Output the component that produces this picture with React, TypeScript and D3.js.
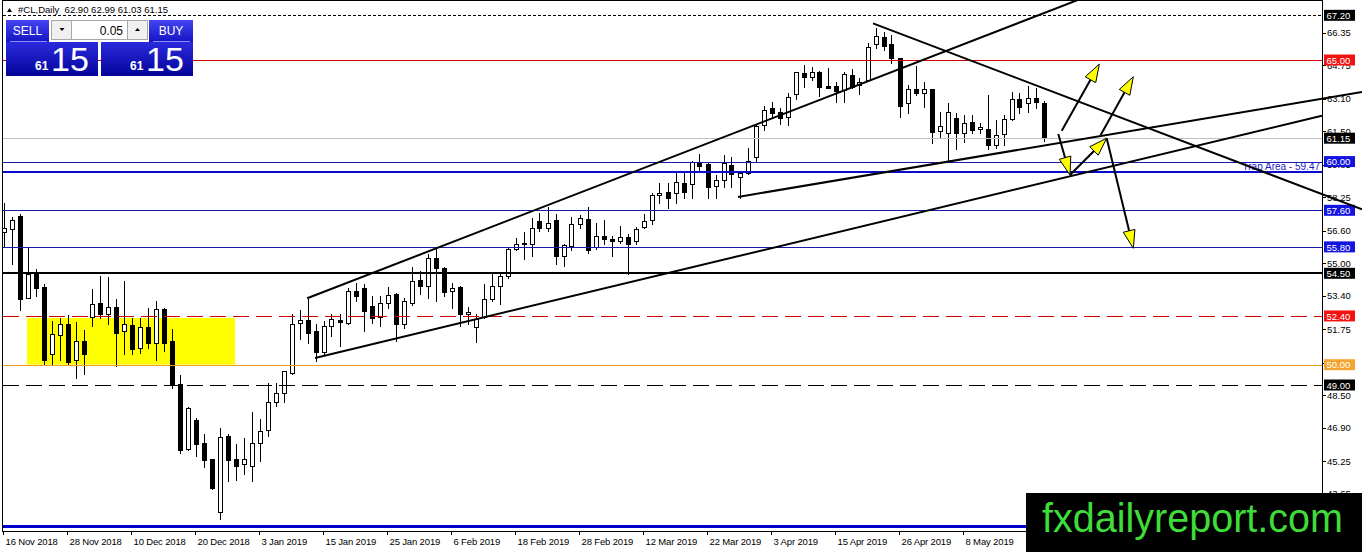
import React from "react";
import * as d3 from "d3";

// ---------- data ----------
const opens = [
  56.51, 56.70, 57.30, 53.30, 54.48, 53.84, 50.53, 51.47, 52.01, 50.23,
  51.17, 52.36, 53.05, 52.51, 52.85, 51.67, 51.96, 50.83, 51.86, 51.07,
  52.75, 51.17, 49.05, 45.84, 47.27, 46.14, 45.35, 42.73, 46.48, 45.35,
  45.10, 45.00, 46.14, 46.78, 48.16, 48.60, 49.59, 52.06, 52.21, 51.67,
  50.63, 51.91, 52.21, 52.06, 53.64, 53.79, 52.90, 52.36, 53.05, 53.49,
  52.01, 53.05, 54.19, 53.89, 55.27, 54.78, 53.64, 53.84, 52.51, 51.86,
  52.36, 53.25, 53.89, 54.38, 55.72, 56.01, 55.96, 57.05, 56.75, 57.10,
  55.37, 55.86, 56.95, 57.15, 55.77, 56.36, 56.21, 56.11, 56.31, 56.11,
  56.80, 57.10, 58.33, 58.48, 58.43, 58.93, 58.88, 59.91, 59.86, 58.78,
  59.07, 59.81, 59.22, 59.42, 60.21, 61.79, 62.63, 62.43, 62.19, 63.32,
  64.36, 64.16, 64.41, 63.72, 63.72, 63.52, 64.26, 63.77, 64.01, 65.79,
  66.14, 65.79, 65.10, 62.88, 63.57, 63.37, 63.57, 61.49, 61.40, 62.14,
  61.40, 61.94, 61.59, 61.59, 60.80, 61.35, 62.09, 63.07, 62.88, 63.12,
  62.90,
];
const highs = [
  57.94, 57.25, 57.40, 55.77, 54.73, 53.99, 52.16, 52.31, 52.46, 52.11,
  51.72, 53.74, 54.38, 54.33, 53.25, 54.14, 52.31, 52.31, 52.80, 53.15,
  52.80, 51.76, 49.49, 47.91, 47.37, 46.58, 45.35, 46.88, 46.58, 46.09,
  46.38, 47.67, 47.32, 49.10, 49.10, 49.69, 52.51, 52.70, 53.25, 52.01,
  52.16, 52.51, 52.51, 53.79, 54.04, 53.99, 53.40, 53.40, 53.84, 53.54,
  53.30, 54.83, 54.63, 55.47, 55.72, 54.80, 54.04, 53.86, 52.85, 52.51,
  53.99, 54.48, 54.58, 55.77, 56.26, 56.51, 57.20, 57.49, 57.74, 57.44,
  55.96, 57.25, 57.35, 57.74, 57.00, 57.10, 56.36, 56.85, 56.41, 56.80,
  57.44, 58.43, 58.93, 58.93, 59.47, 59.47, 60.01, 60.36, 59.96, 59.32,
  60.31, 60.21, 59.44, 60.65, 61.84, 62.73, 62.93, 62.63, 63.37, 64.43,
  64.75, 64.65, 64.46, 64.60, 63.91, 64.41, 64.56, 64.11, 65.84, 66.58,
  66.38, 66.23, 65.12, 63.77, 64.70, 63.91, 63.59, 62.43, 62.88, 62.38,
  62.28, 62.28, 61.89, 63.27, 62.04, 62.28, 63.42, 63.37, 63.72, 63.62,
  62.99,
];
const lows = [
  55.77, 54.98, 52.70, 53.28, 53.40, 50.04, 49.99, 50.23, 49.99, 49.35,
  49.54, 51.91, 52.31, 52.01, 49.94, 50.53, 50.53, 50.58, 50.83, 50.23,
  50.68, 48.85, 45.64, 45.82, 45.49, 44.95, 43.86, 42.38, 44.26, 44.31,
  44.61, 44.26, 45.25, 46.48, 47.96, 48.16, 49.54, 51.27, 51.07, 50.19,
  50.53, 51.42, 50.93, 52.01, 53.15, 51.67, 52.06, 51.91, 52.80, 51.17,
  51.81, 52.95, 53.49, 53.30, 53.15, 53.40, 52.80, 51.91, 52.01, 51.12,
  52.31, 53.15, 53.00, 54.28, 55.67, 55.22, 55.37, 56.60, 56.60, 54.98,
  54.88, 55.67, 56.75, 55.52, 55.72, 55.96, 55.37, 56.01, 54.48, 55.96,
  56.75, 56.95, 57.94, 57.69, 57.94, 58.23, 58.23, 59.57, 58.23, 58.23,
  58.73, 58.73, 58.19, 59.37, 60.01, 61.54, 62.19, 61.84, 61.79, 63.07,
  63.67, 64.01, 63.22, 63.60, 62.93, 62.93, 63.62, 63.32, 63.96, 65.59,
  65.49, 64.85, 62.19, 62.38, 63.27, 62.68, 60.90, 61.20, 59.96, 60.60,
  60.95, 61.40, 61.40, 60.60, 60.65, 60.80, 62.04, 62.38, 62.43, 62.63,
  61.03,
];
const closes = [
  56.75, 57.10, 53.25, 54.48, 53.79, 50.23, 51.52, 52.01, 50.14, 51.17,
  50.53, 53.00, 52.51, 52.85, 51.57, 52.01, 50.78, 51.86, 51.07, 52.75,
  51.07, 49.05, 45.79, 47.86, 46.09, 45.30, 43.91, 46.43, 45.30, 45.00,
  45.35, 46.14, 46.73, 48.16, 48.60, 49.69, 52.01, 52.21, 51.57, 50.63,
  51.91, 52.26, 52.11, 53.64, 53.40, 52.65, 52.31, 53.05, 53.44, 52.01,
  53.15, 54.14, 53.89, 55.27, 54.78, 53.59, 53.79, 52.51, 52.60, 52.26,
  53.25, 53.89, 54.38, 55.72, 55.96, 55.96, 56.75, 56.75, 57.00, 55.37,
  55.91, 56.95, 57.20, 55.67, 56.36, 56.21, 56.11, 56.31, 55.96, 56.70,
  57.05, 58.33, 58.43, 58.23, 58.98, 58.48, 59.96, 59.76, 58.73, 59.07,
  59.91, 59.37, 59.42, 60.01, 61.74, 62.53, 62.38, 62.14, 63.17, 64.41,
  64.16, 64.41, 63.67, 63.62, 63.47, 64.31, 63.67, 63.91, 65.64, 66.19,
  65.69, 65.10, 62.73, 63.57, 63.37, 63.57, 61.45, 61.74, 62.43, 61.40,
  61.89, 61.54, 61.69, 60.80, 61.30, 62.09, 63.07, 62.68, 63.12, 62.93,
  61.15,
];

// one date label every 8 bars, starting at bar 0
const dateLabels = [
  "16 Nov 2018", "28 Nov 2018", "10 Dec 2018", "20 Dec 2018", "3 Jan 2019",
  "15 Jan 2019", "25 Jan 2019", "6 Feb 2019", "18 Feb 2019", "28 Feb 2019",
  "12 Mar 2019", "22 Mar 2019", "3 Apr 2019", "15 Apr 2019", "26 Apr 2019",
  "8 May 2019", "20 May 2019",
];

const priceTicks = [66.35, 64.75, 63.10, 61.50, 59.85, 58.25, 56.60, 55.00, 53.40, 51.75, 50.10, 48.50, 46.90, 45.25, 43.65];

// horizontal levels
const levelPrices = [67.20, 65.00, 61.15, 60.00, 59.47, 57.60, 55.80, 54.50, 52.40, 50.00, 49.00, 42.05];
const trapLabel = "Trap Area - 59.47";

// yellow zone: [fromBar, toBar], [topPrice, bottomPrice]
const zoneBars = [2.94, 28.94];
const zonePrices = [52.30, 50.00];

// trend lines: [bar, price] pairs
const upperChannel = [[37.96, 53.27], [130, 67.30]];
const lowerChannel = [[38.94, 50.33], [130, 58.96]];
const fallingLine = [[108.69, 66.80], [164.81, 58.40]];
const risingLine = [[91.81, 58.26], [169.81, 63.42]];

// arrows: [fromBar, fromPrice, toBar, toPrice]
const arrows = [
  [132.28, 61.52, 136.98, 64.80],
  [137.15, 61.31, 141.23, 64.18],
  [131.85, 61.36, 133.31, 59.34],
  [133.31, 59.34, 137.90, 61.15],
  [137.90, 61.15, 141.23, 55.73],
];

// ---------- layout ----------
const W = 1362;
const H = 552;
const L = 3;
const R = 1322;
const T = 1;
const B = 531;
const FONT = "'Liberation Sans', Arial, sans-serif";

export default function App() {
  const n = opens.length;
  const x = d3.scaleLinear().domain([0, 130]).range([3.5, 1043.5]);
  const y = d3.scaleLinear().domain([49, 65]).range([385, 60]);

  const levelStyle = [
    { stroke: "#000", w: 1, dash: "3,2", bg: "#000" },
    { stroke: "#d40000", w: 1, dash: null, bg: "#f31212" },
    { stroke: "#c0c0c0", w: 1, dash: null, bg: "#000" },
    { stroke: "#1a1aa8", w: 1, dash: null, bg: "#1414e0" },
    { stroke: "#0a0ad0", w: 2, dash: null, bg: null },
    { stroke: "#1a1aa8", w: 1, dash: null, bg: "#1414e0" },
    { stroke: "#1a1aa8", w: 1, dash: null, bg: "#1414e0" },
    { stroke: "#000", w: 2, dash: null, bg: "#000" },
    { stroke: "#d00000", w: 1, dash: "16,7", bg: "#f31212" },
    { stroke: "#f0a020", w: 1, dash: null, bg: "#f3a531" },
    { stroke: "#000", w: 1, dash: "16,7", bg: "#000" },
    { stroke: "#0000cc", w: 3, dash: null, bg: null },
  ];

  const seg = (pts: number[][], xEnd: number) => {
    const x1 = x(pts[0][0]), y1 = y(pts[0][1]);
    const x2 = x(pts[1][0]), y2 = y(pts[1][1]);
    const k = (y2 - y1) / (x2 - x1);
    return { x1, y1, x2: xEnd, y2: y1 + k * (xEnd - x1) };
  };
  const lines = [
    { ...seg(upperChannel, R), clip: "url(#chartClip)" },
    { ...seg(lowerChannel, R), clip: "url(#chartClip)" },
    { ...seg(fallingLine, W), clip: "url(#wideClip)" },
    { ...seg(risingLine, W), clip: "url(#wideClip)" },
  ];

  const arrowShapes = arrows.map((a) => {
    const x1 = x(a[0]), y1 = y(a[1]), x2 = x(a[2]), y2 = y(a[3]);
    const dx = x2 - x1, dy = y2 - y1;
    const len = Math.hypot(dx, dy);
    const ux = dx / len, uy = dy / len;
    const hl = 18, hw = 6;
    const bx = x2 - ux * hl, by = y2 - uy * hl;
    const pts = [
      [x2, y2],
      [bx - uy * hw, by + ux * hw],
      [bx + uy * hw, by - ux * hw],
    ];
    return { x1, y1, bx, by, pts: pts.map((p) => p.join(",")).join(" ") };
  });

  const candles = d3.range(n).map((i) => {
    const cx = Math.round(x(i));
    const o = opens[i], c = closes[i];
    const top = Math.round(y(Math.max(o, c)));
    const bot = Math.round(y(Math.min(o, c)));
    return {
      cx,
      hi: Math.round(y(highs[i])),
      lo: Math.round(y(lows[i])),
      top,
      bot,
      bull: c >= o,
    };
  });

  const header = `#CL,Daily  ${opens[n - 1].toFixed(2)} ${highs[n - 1].toFixed(2)} ${lows[n - 1].toFixed(2)} ${closes[n - 1].toFixed(2)}`;

  return (
    <svg
      width={W}
      height={H}
      viewBox={`0 0 ${W} ${H}`}
      style={{ position: "fixed", left: 0, top: 0, display: "block", background: "#fff" }}
      fontFamily={FONT}
    >
      <defs>
        <clipPath id="chartClip">
          <rect x={L} y={T} width={R - L} height={B - T} />
        </clipPath>
        <clipPath id="wideClip">
          <rect x={L} y={T} width={W - L} height={B - T} />
        </clipPath>
        <linearGradient id="gTop" x1="0" y1="0" x2="0" y2="1">
          <stop offset="0" stopColor="#4444f2" />
          <stop offset="1" stopColor="#1414c4" />
        </linearGradient>
        <linearGradient id="gBot" x1="0" y1="0" x2="0" y2="1">
          <stop offset="0" stopColor="#2a2ade" />
          <stop offset="1" stopColor="#04049a" />
        </linearGradient>
      </defs>

      <rect x={0} y={0} width={W} height={H} fill="#fff" />

      {/* yellow zone */}
      <rect
        x={x(zoneBars[0])}
        y={y(zonePrices[0])}
        width={x(zoneBars[1]) - x(zoneBars[0])}
        height={y(zonePrices[1]) - y(zonePrices[0])}
        fill="#ffff00"
      />

      {/* candles */}
      <g clipPath="url(#chartClip)" shapeRendering="crispEdges">
        {candles.map((c, i) => (
          <g key={i}>
            <line x1={c.cx + 0.5} x2={c.cx + 0.5} y1={c.hi} y2={c.lo + 1} stroke="#000" strokeWidth={1} />
            {c.bot - c.top < 1 ? (
              <line x1={c.cx - 2} x2={c.cx + 3} y1={c.top + 0.5} y2={c.top + 0.5} stroke="#000" />
            ) : (
              <rect
                x={c.cx - 1.5}
                y={c.top + 0.5}
                width={4}
                height={c.bot - c.top}
                fill={c.bull ? "#fff" : "#000"}
                stroke="#000"
                strokeWidth={1}
              />
            )}
          </g>
        ))}
      </g>

      {/* horizontal levels */}
      <g clipPath="url(#chartClip)">
        {levelPrices.map((p, i) => {
          const s = levelStyle[i];
          const yy = Math.round(y(p)) + (s.w % 2 ? 0.5 : 0);
          return (
            <line
              key={i}
              x1={L}
              x2={R}
              y1={yy}
              y2={yy}
              stroke={s.stroke}
              strokeWidth={s.w}
              strokeDasharray={s.dash || undefined}
            />
          );
        })}
      </g>
      <text x={R - 2} y={y(59.47) - 2} textAnchor="end" fontSize={10} fill="#1a1ad0">
        {trapLabel}
      </text>

      {/* frame & axes */}
      <g shapeRendering="crispEdges" stroke="#000" strokeWidth={1}>
        <line x1={L - 0.5} x2={L - 0.5} y1={0} y2={B + 0.5} />
        <line x1={L - 0.5} x2={R + 0.5} y1={0.5} y2={0.5} />
        <line x1={R + 0.5} x2={R + 0.5} y1={0} y2={B + 0.5} />
        <line x1={L - 0.5} x2={R + 0.5} y1={B + 0.5} y2={B + 0.5} />
      </g>

      {/* price axis */}
      {priceTicks.map((v, i) => (
        <g key={i}>
          <line x1={R} x2={R + 4} y1={Math.round(y(v)) + 0.5} y2={Math.round(y(v)) + 0.5} stroke="#000" />
          <text x={R + 5} y={y(v) + 3.5} fontSize={9.5} fill="#000">
            {v.toFixed(2)}
          </text>
        </g>
      ))}
      {levelPrices.map((p, i) => {
        const s = levelStyle[i];
        if (!s.bg) return null;
        return (
          <g key={i}>
            <rect x={R + 2} y={y(p) - 5.5} width={31} height={11} fill={s.bg} />
            <text x={R + 4.5} y={y(p) + 3.7} fontSize={9.5} fill="#fff">
              {p.toFixed(2)}
            </text>
          </g>
        );
      })}

      {/* date axis */}
      {dateLabels.map((d, k) => {
        const tx = Math.round(x(k * 8)) - 0.5;
        return (
          <g key={k}>
            <line x1={tx} x2={tx} y1={B} y2={B + 4} stroke="#000" />
            <text x={tx + 2} y={545} fontSize={9.5} letterSpacing={-0.15} fill="#000">
              {d}
            </text>
          </g>
        );
      })}

      {/* trend lines */}
      {lines.map((l, i) => (
        <line key={i} x1={l.x1} y1={l.y1} x2={l.x2} y2={l.y2} stroke="#000" strokeWidth={2} clipPath={l.clip} />
      ))}

      {/* arrows */}
      {arrowShapes.map((a, i) => (
        <g key={i}>
          <line x1={a.x1} y1={a.y1} x2={a.bx} y2={a.by} stroke="#000" strokeWidth={2} />
          <polygon points={a.pts} fill="#ffff00" stroke="#000" strokeWidth={1} />
        </g>
      ))}

      {/* header */}
      <polygon points="7,12 12,12 9.5,8" fill="#000" />
      <text x={18} y={13} fontSize={9.5} fill="#000" textLength={150} lengthAdjust="spacingAndGlyphs" style={{ whiteSpace: "pre" }}>
        {header}
      </text>

      {/* one-click trading panel */}
      <g>
        <rect x={6} y={20} width={43} height={22} fill="url(#gTop)" />
        <line x1={10} x2={47} y1={41.5} y2={41.5} stroke="#8a8af5" />
        <text x={27.5} y={35} fontSize={12} fill="#fff" textAnchor="middle">SELL</text>
        <rect x={51.5} y={20.5} width={20} height={19} fill="#f0f0f0" stroke="#a8a8a8" />
        <polygon points="59.5,28 64.5,28 62,31" fill="#000" />
        <rect x={71.5} y={20.5} width={56} height={19} fill="#fff" stroke="#a8a8a8" />
        <text x={123} y={35} fontSize={12} fill="#000" textAnchor="end">0.05</text>
        <rect x={127.5} y={20.5} width={20} height={19} fill="#f0f0f0" stroke="#a8a8a8" />
        <polygon points="135,31 140,31 137.5,28" fill="#000" />
        <rect x={149} y={20} width={44} height={22} fill="url(#gTop)" />
        <line x1={153} x2={190} y1={41.5} y2={41.5} stroke="#8a8af5" />
        <text x={171} y={35} fontSize={12} fill="#fff" textAnchor="middle">BUY</text>

        <rect x={6} y={42} width={92} height={34} fill="url(#gBot)" />
        <text x={35} y={70} fontSize={12} fontWeight="bold" fill="#fff">61</text>
        <text x={51} y={71} fontSize={34} fill="#fff">15</text>
        <rect x={101} y={42} width={92} height={34} fill="url(#gBot)" />
        <text x={130} y={70} fontSize={12} fontWeight="bold" fill="#fff">61</text>
        <text x={146} y={71} fontSize={34} fill="#fff">15</text>
      </g>

      {/* watermark */}
      <rect x={1026} y={493} width={W - 1026} height={H - 493} fill="#000" />
      <text x={1042} y={532} fontSize={40} fill="#3fdc3a" textLength={301} lengthAdjust="spacingAndGlyphs">
        fxdailyreport.com
      </text>
    </svg>
  );
}
